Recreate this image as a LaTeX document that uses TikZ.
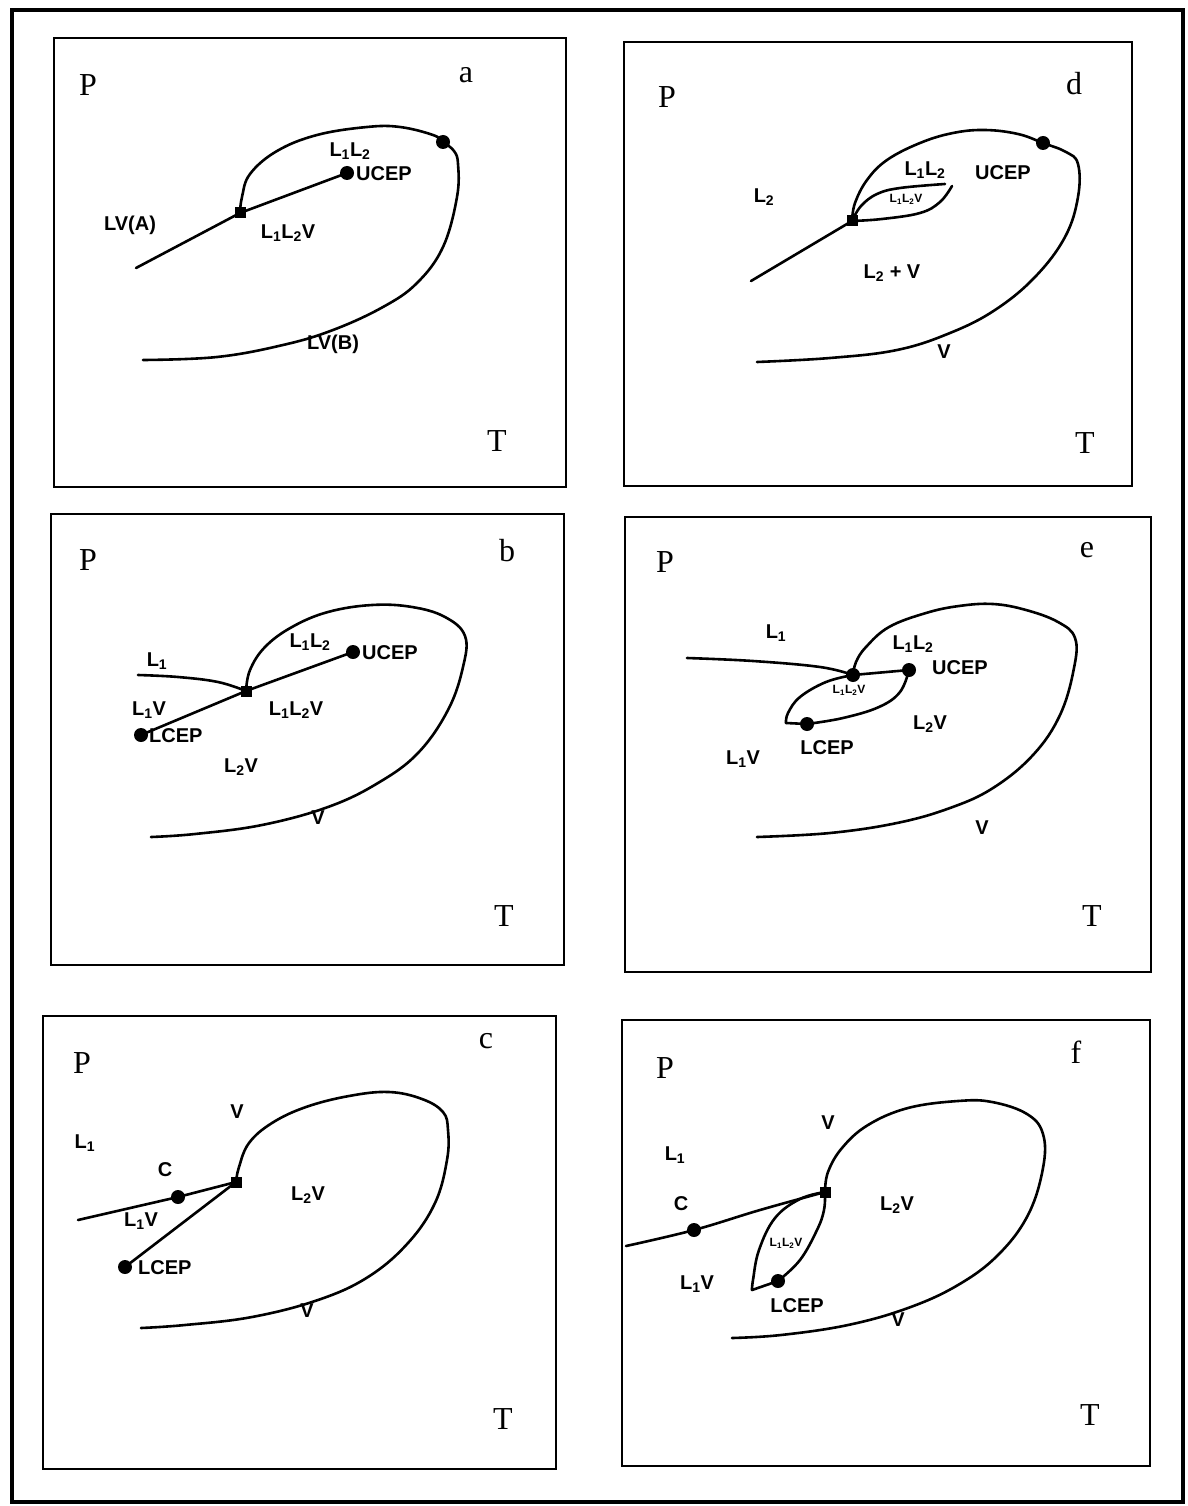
\documentclass[tikz,border=0pt]{standalone}
\usepackage{fontspec}
\setmainfont{Liberation Serif}
\newfontfamily\labfont{Liberation Sans}
\newcommand\Lsb[1]{L\textsubscript{#1}}
\tikzset{
  box/.style={line width=2.5pt},
  frame/.style={line width=4.5pt},
  crv/.style={line width=2.6pt, line join=round, line cap=round},
  dotp/.style={circle, fill, inner sep=0pt, minimum size=14pt},
  tpsq/.style={rectangle, fill, inner sep=0pt, minimum size=11pt},
  axl/.style={font=\fontsize{32}{34}\selectfont, inner sep=0pt},
  lbl/.style={font=\labfont\bfseries\fontsize{20}{22}\selectfont, inner sep=0pt},
  slbl/.style={font=\labfont\bfseries\fontsize{12}{13}\selectfont, inner sep=0pt},
  smooth/.append style={tension=0.65},
}
\begin{document}
\begin{tikzpicture}[x=1pt,y=-1pt]
\useasboundingbox (0,0) rectangle (1187,1506);
\draw[frame] (12,10) rectangle (1183,1502);

% ---------------- panel a ----------------
\draw[box] (54,38) rectangle (566,487);
\node[axl] (aP) at (88,85) {P};
\node[axl] (aid) at (466,75) {a};
\node[axl] (aT) at (497,441) {T};
\coordinate (aTP) at (240,213);
\coordinate (aU) at (347,173);
\coordinate (aS) at (136,268);
\coordinate (aCP) at (443,142);
\coordinate (aE) at (143,360);
\draw[crv] (aS) -- (aTP) -- (aU);
\draw[crv] plot[smooth] coordinates {(aTP) (242,197) (250,174) (277,151) (317,135) (367,127) (400,127) (433,135) (aCP) (454,151) (458,164) (457,197) (443,247) (417,283) (383,307) (333,330) (283,345) (217,357) (aE)};
\node[tpsq] (aTPm) at (aTP) {};
\node[dotp] (aUm) at (aU) {};
\node[dotp] (aCPm) at (aCP) {};
\node[lbl, anchor=west] (aUl) at (356,174) {UCEP};
\node[lbl] (aL12) at (350,151) {\Lsb{1}\Lsb{2}};
\node[lbl] (aL12V) at (288,233) {\Lsb{1}\Lsb{2}V};
\node[lbl] (aLVA) at (130,225) {LV(A)};
\node[lbl] (aLVB) at (333,344) {LV(B)};

% ---------------- panel d ----------------
\draw[box] (624,42) rectangle (1132,486);
\node[axl] (dP) at (667,97) {P};
\node[axl] (did) at (1074,84) {d};
\node[axl] (dT) at (1085,443) {T};
\coordinate (dTP) at (852,221);
\coordinate (dS) at (751,281);
\coordinate (dCP) at (1043,143);
\coordinate (dE) at (757,362);
\coordinate (dUe) at (945,184);
\coordinate (dLe) at (952,186);
\draw[crv] (dS) -- (dTP);
\draw[crv] plot[smooth] coordinates {(dTP) (855,203) (867,180) (887,160) (920,143) (953,133) (985,130) (1018,134) (dCP) (1066,152) (1078,164) (1078,197) (1065,237) (1035,277) (995,310) (950,333) (897,350) (830,358) (dE)};
\draw[crv] plot[smooth] coordinates {(dTP) (861,206) (877,194) (900,188) (dUe)};
\draw[crv] plot[smooth] coordinates {(dTP) (882,219) (920,213) (940,202) (dLe)};
\node[tpsq] (dTPm) at (dTP) {};
\node[dotp] (dCPm) at (dCP) {};
\node[lbl] (dUl) at (1003,173) {UCEP};
\node[lbl] (dL12) at (925,170) {\Lsb{1}\Lsb{2}};
\node[slbl] (dL12V) at (906,199) {\Lsb{1}\Lsb{2}V};
\node[lbl] (dL2) at (764,197) {\Lsb{2}};
\node[lbl] (dL2V) at (892,273) {\Lsb{2} + V};
\node[lbl] (dV) at (944,352) {V};

% ---------------- panel b ----------------
\draw[box] (51,514) rectangle (564,965);
\node[axl] (bP) at (88,560) {P};
\node[axl] (bid) at (507,551) {b};
\node[axl] (bT) at (504,916) {T};
\coordinate (bTP) at (246,691);
\coordinate (bU) at (353,652);
\coordinate (bLC) at (141,735);
\coordinate (bS) at (138,675);
\coordinate (bE) at (151,837);
\draw[crv] plot[smooth] coordinates {(bS) (178,677) (218,682) (bTP)};
\draw[crv] (bLC) -- (bTP) -- (bU);
\draw[crv] plot[smooth] coordinates {(bTP) (250,670) (265,647) (292,627) (328,612) (372,605) (412,607) (445,617) (465,636) (463,667) (448,710) (418,753) (378,783) (328,807) (262,825) (195,834) (bE)};
\node[tpsq] (bTPm) at (bTP) {};
\node[dotp] (bUm) at (bU) {};
\node[dotp] (bLCm) at (bLC) {};
\node[lbl, anchor=west] (bUl) at (362,653) {UCEP};
\node[lbl, anchor=west] (bLl) at (149,736) {LCEP};
\node[lbl] (bL1) at (157,661) {\Lsb{1}};
\node[lbl] (bL12) at (310,642) {\Lsb{1}\Lsb{2}};
\node[lbl] (bL1V) at (149,710) {\Lsb{1}V};
\node[lbl] (bL12V) at (296,710) {\Lsb{1}\Lsb{2}V};
\node[lbl] (bL2V) at (241,767) {\Lsb{2}V};
\node[lbl] (bV) at (318,818) {V};

% ---------------- panel e ----------------
\draw[box] (625,517) rectangle (1151,972);
\node[axl] (eP) at (665,562) {P};
\node[axl] (eid) at (1087,550) {e};
\node[axl] (eT) at (1092,916) {T};
\coordinate (eTP) at (853,675);
\coordinate (eU) at (909,670);
\coordinate (eLC) at (807,724);
\coordinate (eS) at (687,658);
\coordinate (eC) at (786,723);
\coordinate (eE) at (757,837);
\draw[crv] plot[smooth] coordinates {(eS) (753,661) (820,667) (eTP)};
\draw[crv] (eTP) -- (eU);
\draw[crv] plot[smooth] coordinates {(eTP) (826,682) (800,697) (788,713) (eC)};
\draw[crv] (eC) -- (eLC);
\draw[crv] plot[smooth] coordinates {(eLC) (843,718) (879,707) (900,692) (eU)};
\draw[crv] plot[smooth] coordinates {(eTP) (856,662) (866,647) (889,627) (926,613) (959,606) (993,604) (1026,610) (1058,622) (1075,638) (1074,668) (1060,715) (1033,755) (993,788) (950,808) (897,823) (830,833) (eE)};
\node[dotp] (eTPm) at (eTP) {};
\node[dotp] (eUm) at (eU) {};
\node[dotp] (eLCm) at (eLC) {};
\node[lbl] (eUl) at (960,668) {UCEP};
\node[lbl] (eLl) at (827,748) {LCEP};
\node[lbl] (eL1) at (776,633) {\Lsb{1}};
\node[lbl] (eL12) at (913,644) {\Lsb{1}\Lsb{2}};
\node[slbl] (eL12V) at (849,690) {\Lsb{1}\Lsb{2}V};
\node[lbl] (eL2V) at (930,724) {\Lsb{2}V};
\node[lbl] (eL1V) at (743,759) {\Lsb{1}V};
\node[lbl] (eV) at (982,828) {V};

% ---------------- panel c ----------------
\draw[box] (43,1016) rectangle (556,1469);
\node[axl] (cP) at (82,1063) {P};
\node[axl] (cid) at (486,1041) {c};
\node[axl] (cT) at (503,1419) {T};
\coordinate (cTP) at (236,1182);
\coordinate (cC) at (178,1197);
\coordinate (cLC) at (125,1267);
\coordinate (cS) at (78,1220);
\coordinate (cE) at (141,1328);
\draw[crv] (cS) -- (cC) -- (cTP);
\draw[crv] (cLC) -- (cTP);
\draw[crv] plot[smooth] coordinates {(cTP) (239,1167) (249,1143) (272,1123) (306,1107) (349,1096) (389,1092) (422,1099) (443,1112) (448,1130) (447,1160) (435,1203) (408,1243) (368,1277) (318,1300) (252,1317) (185,1325) (cE)};
\node[tpsq] (cTPm) at (cTP) {};
\node[dotp] (cCm) at (cC) {};
\node[dotp] (cLCm) at (cLC) {};
\node[lbl, anchor=west] (cLl) at (138,1268) {LCEP};
\node[lbl] (cCl) at (165,1170) {C};
\node[lbl] (cL1) at (85,1143) {\Lsb{1}};
\node[lbl] (cVt) at (237,1112) {V};
\node[lbl] (cL2V) at (308,1195) {\Lsb{2}V};
\node[lbl] (cL1V) at (141,1221) {\Lsb{1}V};
\node[lbl] (cVb) at (307,1311) {V};

% ---------------- panel f ----------------
\draw[box] (622,1020) rectangle (1150,1466);
\node[axl] (fP) at (665,1068) {P};
\node[axl] (fid) at (1076,1052) {f};
\node[axl] (fT) at (1090,1415) {T};
\coordinate (fTP) at (825,1192);
\coordinate (fC) at (694,1230);
\coordinate (fLC) at (778,1281);
\coordinate (fS) at (626,1246);
\coordinate (fBL) at (752,1290);
\coordinate (fE) at (732,1338);
\draw[crv] plot[smooth] coordinates {(fS) (fC) (760,1210) (fTP)};
\draw[crv] plot[smooth] coordinates {(fTP) (800,1199) (775,1218) (759,1250) (753,1280) (fBL)};
\draw[crv] (fBL) -- (fLC);
\draw[crv] plot[smooth] coordinates {(fLC) (800,1260) (817,1230) (824,1210) (fTP)};
\draw[crv] plot[smooth] coordinates {(fTP) (828,1172) (842,1148) (868,1125) (908,1108) (958,1101) (992,1102) (1027,1114) (1043,1134) (1043,1168) (1028,1215) (998,1255) (958,1285) (908,1308) (848,1325) (781,1335) (fE)};
\node[tpsq] (fTPm) at (fTP) {};
\node[dotp] (fCm) at (fC) {};
\node[dotp] (fLCm) at (fLC) {};
\node[lbl] (fLl) at (797,1306) {LCEP};
\node[lbl] (fCl) at (681,1204) {C};
\node[lbl] (fL1) at (675,1155) {\Lsb{1}};
\node[lbl] (fVt) at (828,1123) {V};
\node[lbl] (fL2V) at (897,1205) {\Lsb{2}V};
\node[slbl] (fL12V) at (786,1243) {\Lsb{1}\Lsb{2}V};
\node[lbl] (fL1V) at (697,1284) {\Lsb{1}V};
\node[lbl] (fVb) at (898,1320) {V};
\end{tikzpicture}
\end{document}
